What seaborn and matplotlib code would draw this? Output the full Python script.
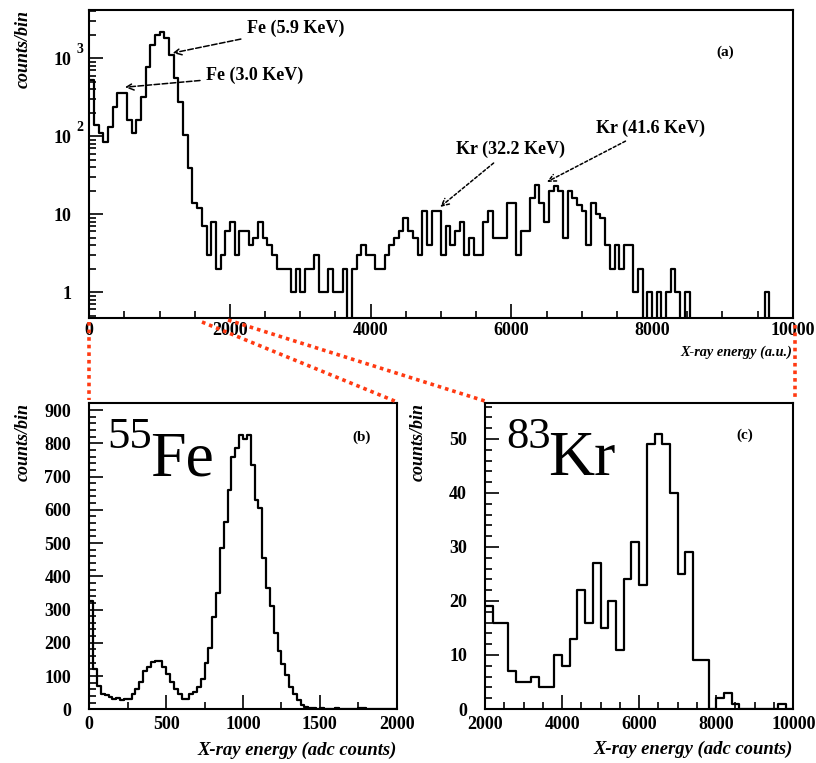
import numpy as np
import pandas as pd
import seaborn as sns
import matplotlib.pyplot as plt
import matplotlib.ticker as mtick
from matplotlib.lines import Line2D

# (a) full spectrum: 150 bins from 0 to 10000 a.u.
full_counts = [
    530, 140, 110, 85, 133, 240, 355, 355, 162, 110,
    162, 322, 780, 1480, 1990, 2190, 1810, 1100, 555, 278,
    104, 39, 14, 12, 7, 3, 8, 2, 3, 6,
    8, 3, 6, 6, 4, 5, 8, 5, 4, 3,
    2, 2, 2, 1, 2, 1, 2, 2, 3, 1,
    1, 2, 1, 1, 2, 0, 2, 3, 4, 3,
    3, 2, 2, 3, 4, 5, 6, 9, 6, 5,
    3, 11, 4, 11, 11, 3, 7, 4, 6, 8,
    3, 5, 3, 3, 8, 11, 5, 5, 5, 14,
    14, 3, 6, 6, 16, 24, 14, 8, 20, 23,
    20, 5, 20, 16, 13, 11, 4, 14, 10, 9,
    4, 2, 4, 2, 4, 4, 1, 2, 0, 1,
    0, 1, 0, 1, 2, 1, 0, 1, 0, 0,
    0, 0, 0, 0, 0, 0, 0, 0, 0, 0,
    0, 0, 0, 0, 1, 0, 0, 0, 0, 0,
]
full_edges = np.linspace(0, 10000, len(full_counts) + 1)

# (b) 55Fe: 25 adc-count bins from 0 to 2000
fe_counts = [
    325, 120, 70, 47, 42, 37, 32, 35, 27, 30,
    32, 47, 62, 82, 114, 127, 142, 145, 145, 127,
    107, 82, 62, 47, 32, 32, 47, 52, 67, 92,
    140, 185, 278, 350, 485, 562, 660, 760, 785, 825,
    812, 825, 735, 630, 605, 455, 365, 310, 228, 175,
    137, 102, 67, 47, 27, 14, 6, 4, 3, 2,
    3, 2, 1, 2, 3, 1, 0, 0, 0, 1,
    3, 5, 0, 0, 0, 0, 0, 0, 0, 0,
]
fe_edges = np.linspace(0, 2000, len(fe_counts) + 1)

# (c) 83Kr: 200 adc-count bins from 2000 to 10000
kr_counts = [
    19, 16, 16, 7, 5, 5, 6, 4, 4, 10,
    8, 13, 22, 16, 27, 15, 20, 11, 24, 31,
    23, 49, 51, 49, 40, 25, 29, 9, 9, 0,
    2, 3, 1, 0, 0, 0, 0, 0, 1, 0,
]
kr_edges = np.linspace(2000, 10000, len(kr_counts) + 1)

log_ticks = [1, 10, 100, 1000]
log_tick_labels = ["1", "10", "10", "10"]
log_tick_exponents = ["", "", "2", "3"]

peak_labels = ["Fe (5.9 KeV)", "Fe (3.0 KeV)", "Kr (32.2 KeV)", "Kr (41.6 KeV)"]
peak_tips = [(1186, 1170), (507, 426), (4989, 12.4), (6507, 26)]
peak_text_pos = [(2240, 2460), (1660, 600), (5210, 68), (7210, 128)]

sns.set_style("ticks")
plt.rcParams["font.family"] = ["Liberation Serif", "DejaVu Serif"]
plt.rcParams["font.weight"] = "bold"
plt.rcParams["text.color"] = "black"
plt.rcParams["axes.labelcolor"] = "black"

W, H = 816, 763
fig = plt.figure(figsize=(W / 100, H / 100), dpi=100)


def px_box(x0, y0, x1, y1):
    return [x0 / W, 1 - y1 / H, (x1 - x0) / W, (y1 - y0) / H]


ax_a = fig.add_axes(px_box(89.3, 10, 792.7, 317.7))
ax_b = fig.add_axes(px_box(89.3, 402.7, 396.7, 709.3))
ax_c = fig.add_axes(px_box(485, 403.3, 793.3, 709))


def draw_hist(ax, edges, counts):
    centers = (edges[:-1] + edges[1:]) / 2
    df = pd.DataFrame({"energy": centers, "counts": counts})
    sns.histplot(data=df, x="energy", weights="counts", bins=list(edges),
                 element="step", fill=False, color="black",
                 linewidth=1.6, ax=ax)


def style_axes(ax, xlabel, xlab_size, xlab_y, ylab_x, xpad):
    for s in ax.spines.values():
        s.set_visible(True)
        s.set_linewidth(1.5)
        s.set_color("black")
    ax.tick_params(which="both", direction="in", top=False, right=False,
                   width=1.2, colors="black", labelsize=13)
    ax.tick_params(axis="y", pad=13)
    ax.tick_params(axis="x", pad=xpad)
    ax.tick_params(which="major", length=10)
    ax.tick_params(which="minor", length=5)
    ax.set_xlabel(xlabel, loc="right", fontstyle="italic",
                  fontweight="bold", fontsize=xlab_size)
    ax.xaxis.set_label_coords(1.0, xlab_y)
    ax.set_ylabel("counts/bin", loc="top", fontstyle="italic",
                  fontweight="bold", fontsize=13)
    ax.yaxis.set_label_coords(ylab_x, 1.0)


# (a) full spectrum, log scale
ax_a.set_yscale("log")
draw_hist(ax_a, full_edges, full_counts)
ax_a.set_xlim(0, 10000)
ax_a.set_ylim(0.47, 4170)
ax_a.xaxis.set_major_locator(mtick.MultipleLocator(2000))
ax_a.xaxis.set_minor_locator(mtick.MultipleLocator(500))
ax_a.yaxis.set_major_locator(mtick.FixedLocator(log_ticks))
ax_a.yaxis.set_major_formatter(mtick.FixedFormatter(log_tick_labels))
ax_a.yaxis.set_minor_locator(mtick.LogLocator(subs=np.arange(2, 10)))
ax_a.yaxis.set_minor_formatter(mtick.NullFormatter())
style_axes(ax_a, "X-ray energy (a.u.)", 10.3, -0.092, -0.0815, 3)
# ROOT-style exponents hanging right of the "10"
for val, exp in zip(log_ticks, log_tick_exponents):
    if exp:
        ax_a.annotate(exp, xy=(0, val), xycoords=("axes fraction", "data"),
                      xytext=(-9, 1.5), textcoords="offset points",
                      fontsize=10, fontweight="bold", ha="left", va="bottom")
ax_a.text(0.904, 0.8635, "(a)", transform=ax_a.transAxes, fontsize=11,
          ha="center", va="center")
for i, lab in enumerate(peak_labels):
    dotted = lab.startswith("Kr")
    ax_a.annotate(lab, xy=peak_tips[i], xytext=peak_text_pos[i],
                  ha="left", va="center", fontsize=13, fontweight="bold",
                  arrowprops=dict(arrowstyle="->", color="black", lw=1.1,
                                  linestyle=(0, (2, 1.5)) if dotted else "--",
                                  shrinkA=2, shrinkB=0))

# (b) 55Fe
draw_hist(ax_b, fe_edges, fe_counts)
ax_b.set_xlim(0, 2000)
ax_b.set_ylim(0, 922)
ax_b.xaxis.set_major_locator(mtick.MultipleLocator(500))
ax_b.xaxis.set_minor_locator(mtick.MultipleLocator(250))
ax_b.yaxis.set_major_locator(mtick.MultipleLocator(100))
ax_b.yaxis.set_minor_locator(mtick.MultipleLocator(20))
style_axes(ax_b, "X-ray energy (adc counts)", 13.4, -0.105, -0.1864, 5)
ax_b.text(0.886, 0.888, "(b)", transform=ax_b.transAxes, fontsize=11,
          ha="center", va="center")
ax_b.text(0.0576, 0.852, "55", transform=ax_b.transAxes, fontsize=32,
          fontweight="normal", ha="left", va="baseline")
ax_b.text(0.1975, 0.764, "Fe", transform=ax_b.transAxes, fontsize=46,
          fontweight="normal", ha="left", va="baseline")

# (c) 83Kr
draw_hist(ax_c, kr_edges, kr_counts)
ax_c.set_xlim(2000, 10000)
ax_c.set_ylim(0, 56.6)
ax_c.xaxis.set_major_locator(mtick.MultipleLocator(2000))
ax_c.xaxis.set_minor_locator(mtick.MultipleLocator(500))
ax_c.yaxis.set_major_locator(mtick.MultipleLocator(10))
ax_c.yaxis.set_minor_locator(mtick.MultipleLocator(2))
style_axes(ax_c, "X-ray energy (adc counts)", 13.4, -0.105, -0.188, 5)
ax_c.text(0.843, 0.896, "(c)", transform=ax_c.transAxes, fontsize=11,
          ha="center", va="center")
ax_c.text(0.068, 0.854, "83", transform=ax_c.transAxes, fontsize=32,
          fontweight="normal", ha="left", va="baseline")
ax_c.text(0.204, 0.765, "Kr", transform=ax_c.transAxes, fontsize=46,
          fontweight="normal", ha="left", va="baseline")

# red dotted zoom connectors between the panels
connectors = [((89, 322), (89, 400)), ((202, 322), (397, 402)),
              ((228, 320), (488, 402)), ((795, 325), (795, 400))]
for (x1, y1), (x2, y2) in connectors:
    fig.add_artist(Line2D([x1 / W, x2 / W], [1 - y1 / H, 1 - y2 / H],
                          transform=fig.transFigure, color="#ff3a12",
                          lw=2.6, linestyle=(0, (1, 1.1))))

fig.savefig("out.png", dpi=100)
